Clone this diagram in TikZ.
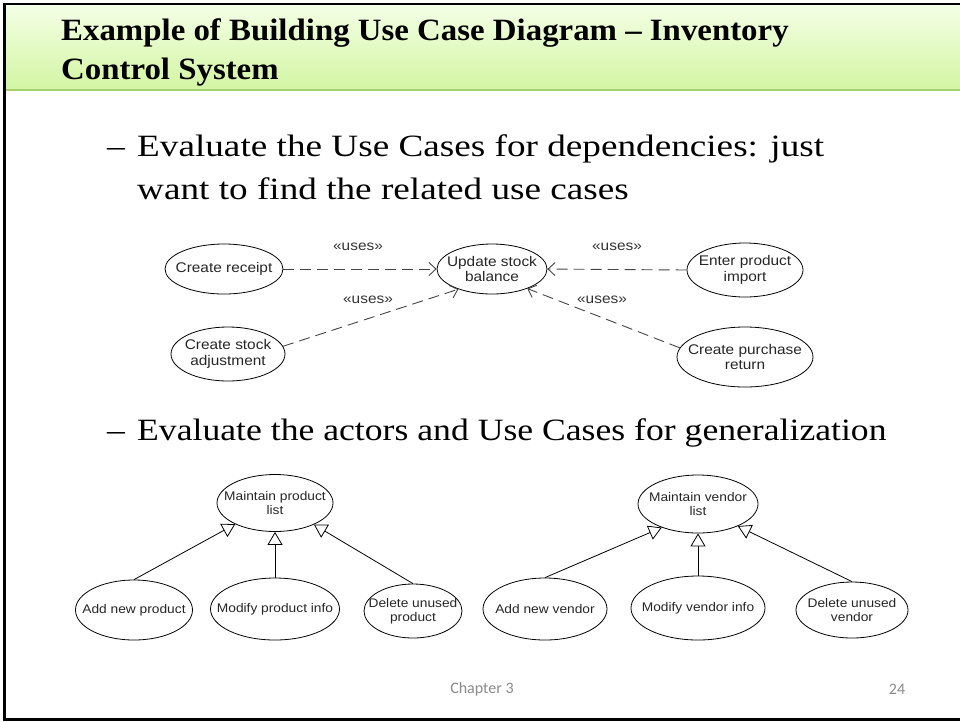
\documentclass[tikz,border=0pt]{standalone}
\usepackage{fontspec}
\usetikzlibrary{shapes.geometric,arrows.meta}
\setmainfont{Liberation Serif}
\newfontfamily\titlefont{Liberation Serif}[FakeStretch=1.06]
\newfontfamily\bodyfont{Liberation Serif}[FakeStretch=1.15]
\newfontfamily\bodywidefont{Liberation Serif}[FakeStretch=1.2]
\newfontfamily\umlfont{Liberation Sans}[FakeStretch=1.1]
\newfontfamily\footfont{Carlito}
\definecolor{hdrtop}{HTML}{F4FFE6}
\definecolor{hdrbot}{HTML}{D3F5A3}
\definecolor{hdrline}{HTML}{A6CF6E}
\definecolor{dashgray}{HTML}{454545}
\definecolor{footgray}{HTML}{8A8A8A}
\begin{document}
\begin{tikzpicture}[x=1pt,y=-1pt,
  uc/.style={ellipse, draw, line width=0.8pt, inner sep=-80pt, align=center,
    font=\umlfont\fontsize{14}{15.5}\selectfont, text=black!85},
  ucs/.style={uc, font=\umlfont\fontsize{12.5}{14}\selectfont},
  uses/.style={draw=dashgray, line width=0.9pt, dash pattern=on 11pt off 6pt,
    -{Straight Barb[length=7pt,width=13pt]}},
  stereo/.style={font=\umlfont\fontsize{14}{16}\selectfont, text=black!80},
  gen/.style={draw, line width=0.8pt, -{Triangle[open, length=13pt, width=15pt, fill=white]}},
  bullet/.style={anchor=base west, inner sep=0pt, font=\bodyfont\fontsize{31}{36}\selectfont},
  bulletwide/.style={bullet, font=\bodywidefont\fontsize{31}{36}\selectfont},
  foot/.style={font=\footfont\fontsize{16}{18}\selectfont, text=footgray}]
\useasboundingbox (0,0) rectangle (960,721);

% header band
\shade[top color=hdrtop, bottom color=hdrbot] (5,4) rectangle (960,90);
\draw[hdrline, line width=2.5pt] (5,90) -- (960,90);
% slide frame
\draw[line width=2.6pt] (962,4) -- (4.5,4) -- (4.5,719.5) -- (962,719.5);

% title
\node[anchor=base west, inner sep=0pt, font=\titlefont\bfseries\fontsize{31}{38}\selectfont] (t1) at (61,40)
  {Example of Building Use Case Diagram – Inventory};
\node[anchor=base west, inner sep=0pt, font=\titlefont\bfseries\fontsize{31}{38}\selectfont] (t2) at (61,79)
  {Control System};

% first bullet
\node[bullet] (d1) at (107,156) {–};
\node[bulletwide] (b1a) at (137,156) {Evaluate the Use Cases for dependencies: just};
\node[bulletwide] (b1b) at (137,199) {want to find the related use cases};

% <<uses>> dependencies
\node[uc, minimum width=118pt, minimum height=50pt] (cr) at (224,269) {Create receipt};
\node[uc, minimum width=114pt, minimum height=54pt] (csa) at (228,354) {Create stock\\adjustment};
\node[uc, minimum width=110pt, minimum height=50pt] (usb) at (492,269) {Update stock\\balance};
\node[uc, minimum width=116pt, minimum height=54pt] (epi) at (745,270) {Enter product\\import};
\node[uc, minimum width=136pt, minimum height=60pt] (cpr) at (745,357) {Create purchase\\return};

\draw[uses] (cr.east) -- (usb.west);
\draw[uses] (csa.8) -- (usb.211);
\draw[uses] (epi.west) -- (usb.east);
\draw[uses] (cpr.172) -- (usb.331);

\node[stereo] (s1) at (358,247) {«uses»};
\node[stereo] (s2) at (368,300) {«uses»};
\node[stereo] (s3) at (617,247) {«uses»};
\node[stereo] (s4) at (602,300) {«uses»};

% second bullet
\node[bullet] (d2) at (107,440) {–};
\node[bullet] (b2) at (137,440) {Evaluate the actors and Use Cases for generalization};

% product generalization
\node[ucs, minimum width=116pt, minimum height=57pt] (mpl) at (275,503) {Maintain product\\list};
\node[ucs, minimum width=117pt, minimum height=60pt] (anp) at (134,610) {Add new product};
\node[ucs, minimum width=129pt, minimum height=62pt] (mpi) at (275,609) {Modify product info};
\node[ucs, minimum width=98pt, minimum height=54pt] (dup) at (413,611) {Delete unused\\product};

\draw[gen] (anp.north) -- (mpl.208);
\draw[gen] (mpi.north) -- (mpl.south);
\draw[gen] (dup.north) -- (mpl.331);

% vendor generalization
\node[ucs, minimum width=120pt, minimum height=58pt] (mvl) at (698,504) {Maintain vendor\\list};
\node[ucs, minimum width=124pt, minimum height=62pt] (anv) at (545,609) {Add new vendor};
\node[ucs, minimum width=134pt, minimum height=64pt] (mvi) at (698,608) {Modify vendor info};
\node[ucs, minimum width=112pt, minimum height=56pt] (duv) at (852,610) {Delete unused\\vendor};

\draw[gen] (anv.north) -- (mvl.213);
\draw[gen] (mvi.north) -- (mvl.south);
\draw[gen] (duv.north) -- (mvl.331);

% footer
\node[foot] (ch) at (482,689) {Chapter 3};
\node[foot] (pg) at (897,689) {24};
\end{tikzpicture}
\end{document}
